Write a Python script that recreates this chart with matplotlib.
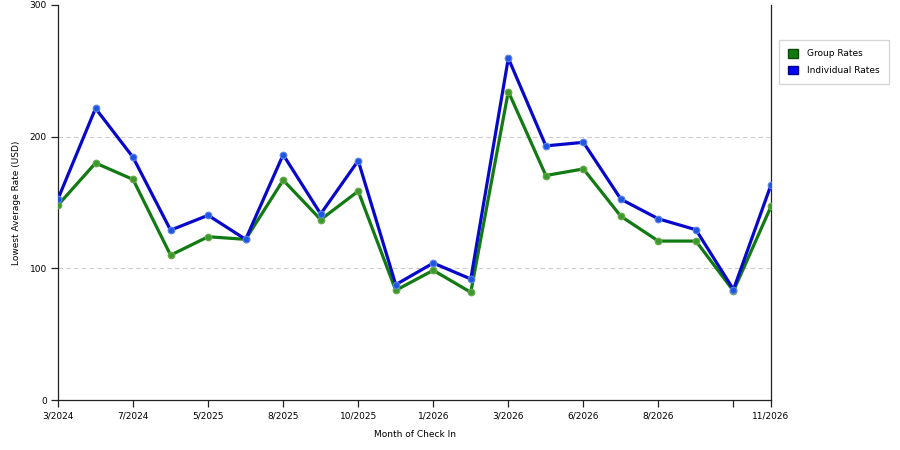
import numpy as np
import matplotlib
matplotlib.use("Agg")
import matplotlib.pyplot as plt
from matplotlib.patches import Patch

#%% Data
tick_labels = ["3/2024", "7/2024", "5/2025", "8/2025", "10/2025", "1/2026",
               "3/2026", "6/2026", "8/2026", "", "11/2026"]
tick_positions = [0, 2, 4, 6, 8, 10, 12, 14, 16, 18, 19]

group_rates = [148, 180, 167.5, 110, 124, 122, 167, 137, 158.6, 83.3,
               98.5, 81.8, 234.3, 170.5, 175.5, 139.5, 120.7, 120.7, 82.8, 147]
individual_rates = [152.7, 221.5, 184.3, 129, 140.3, 122, 186.3, 141.3, 181.8, 87.6,
                    104, 91.9, 259.6, 193, 195.7, 152.5, 137.6, 129.3, 83.9, 163.4]

x = np.arange(len(group_rates))

#%% Plot
plt.rcParams['font.family'] = ['DejaVu Sans']
fig = plt.figure(figsize=(9, 4.5), dpi=100)
ax = fig.add_axes([58/900, 1 - 400/450, (771 - 58)/900, (400 - 5)/450])

green = '#127a12'
blue = '#0808cc'
ax.plot(x, group_rates, color=green, lw=2.3, marker='o', ms=4.8,
        mfc='#3c9a2c', mec='#6aa84f', mew=0.8, zorder=3)
ax.plot(x, individual_rates, color=blue, lw=2.3, marker='o', ms=4.8,
        mfc='#1f55e0', mec='#5b84e8', mew=0.8, zorder=4)

ax.set_xlim(0, len(x) - 1)
ax.set_ylim(0, 300)
ax.set_yticks([0, 100, 200, 300])
ax.set_xticks(tick_positions)
ax.set_xticklabels(tick_labels)
ax.tick_params(labelsize=6.5, length=5, width=0.9, color='#222222', pad=3)
for gy in [100, 200]:
    ax.axhline(gy, ls=(0, (4, 3)), color='#cccccc', lw=0.8, zorder=1)

ax.spines['top'].set_visible(False)
for s in ['left', 'bottom', 'right']:
    ax.spines[s].set_color('#222222')
    ax.spines[s].set_linewidth(0.9)

ax.set_xlabel("Month of Check In", fontsize=6.5, labelpad=7)
ax.set_ylabel("Lowest Average Rate (USD)", fontsize=6.5, labelpad=6)

handles = [Patch(facecolor=green, edgecolor='#0a4a0a', label='Group Rates'),
           Patch(facecolor='#0000ff', edgecolor='#00008a', label='Individual Rates')]
leg = fig.legend(handles=handles, loc='upper left', bbox_to_anchor=(779/900, 1 - 40/450),
                 fontsize=6.5, frameon=True, fancybox=False, edgecolor='#cccccc',
                 handlelength=1.1, handleheight=1.1, handletextpad=1.0,
                 borderpad=1.0, labelspacing=0.8, borderaxespad=0)

fig.savefig("out.png", dpi=100)
